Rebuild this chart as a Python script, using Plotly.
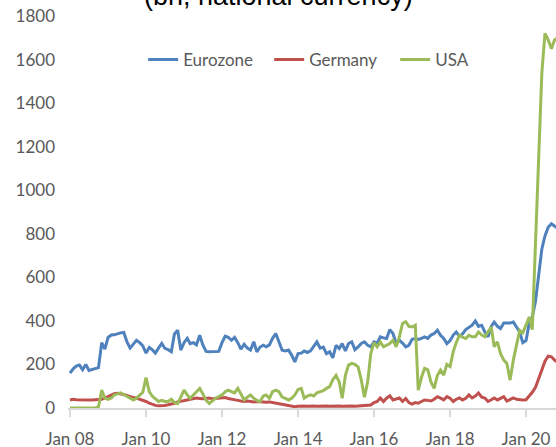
import pandas as pd
import plotly.graph_objects as go

# monthly values, Jan 2008 - Nov 2020 (bn, national currency)
eurozone = [
    160, 180, 192, 197, 176, 200, 172, 177, 180, 185, 300, 270,   # 2008
    324, 335, 336, 342, 345, 347, 305, 275, 292, 311, 300, 285,   # 2009
    252, 278, 268, 252, 275, 296, 274, 268, 258, 340, 357, 266,   # 2010
    300, 320, 295, 300, 290, 334, 290, 260, 258, 258, 258, 260,   # 2011
    300, 330, 325, 311, 324, 300, 270, 293, 275, 266, 304, 258,   # 2012
    280, 288, 281, 290, 320, 342, 304, 265, 262, 266, 243, 212,   # 2013
    250, 252, 262, 255, 262, 281, 304, 275, 280, 250, 258, 230,   # 2014
    288, 273, 296, 262, 296, 304, 268, 281, 296, 304, 288, 281,   # 2015
    304, 298, 327, 322, 319, 360, 342, 296, 311, 298, 281, 288,   # 2016
    315, 319, 315, 320, 327, 320, 335, 342, 357, 334, 319, 296,   # 2017
    310, 335, 349, 330, 340, 360, 370, 380, 400, 375, 380, 349,   # 2018
    327, 375, 395, 375, 365, 390, 390, 390, 395, 375, 349, 300,   # 2019
    310, 390, 418, 490, 600, 730, 790, 830, 846, 835, 825,        # 2020
]
germany = [
    37, 40, 38, 37, 37, 37, 37, 37, 37, 38, 40, 45,
    52, 60, 66, 68, 66, 62, 58, 52, 48, 45, 40, 37,
    30, 22, 16, 12, 10, 10, 12, 15, 18, 22, 28, 30,
    33, 37, 40, 44, 46, 44, 42, 44, 46, 42, 44, 46,
    46, 48, 44, 42, 38, 35, 32, 30, 32, 30, 28, 30,
    30, 28, 26, 28, 25, 22, 20, 15, 12, 10, 8, 6,
    8, 10, 9, 8, 10, 9, 8, 9, 10, 9, 8, 9,
    10, 9, 8, 9, 10, 9, 8, 9, 10, 11, 12, 14,
    25, 30, 46, 30, 45, 56, 37, 42, 46, 30, 44, 25,
    18, 25, 22, 30, 37, 35, 32, 40, 52, 45, 37, 52,
    45, 30, 40, 46, 37, 45, 60, 46, 55, 69, 50, 46,
    30, 38, 46, 37, 45, 52, 32, 40, 46, 40, 37, 37,
    38, 55, 72, 95, 130, 175, 215, 238, 235, 220, 210,
]
usa = [
    0, 0, 0, 0, 0, 0, 0, 0, 0, 5, 82, 45,
    40, 46, 60, 65, 69, 62, 55, 48, 37, 45, 60, 72,
    140, 75, 55, 40, 30, 35, 30, 30, 40, 25, 20, 50,
    82, 60, 45, 60, 75, 90, 65, 35, 21, 35, 45, 53,
    60, 75, 82, 75, 69, 90, 65, 37, 50, 60, 45, 35,
    29, 55, 60, 44, 75, 82, 75, 50, 44, 37, 45, 60,
    85, 90, 45, 55, 60, 55, 70, 75, 80, 90, 98, 130,
    150, 120, 45, 150, 197, 205, 200, 189, 128, 50, 120, 250,
    300, 281, 304, 281, 290, 296, 311, 281, 327, 388, 396, 375,
    372, 380, 82, 140, 182, 175, 120, 90, 150, 174, 151, 200,
    190, 260, 300, 334, 325, 319, 334, 327, 327, 349, 335, 327,
    350, 372, 281, 304, 250, 220, 205, 128, 220, 296, 357, 345,
    380, 418, 360, 740, 1180, 1540, 1720, 1690, 1650, 1690, 1700,
]

tick_dates = ["2008-01-01", "2010-01-01", "2012-01-01", "2014-01-01",
              "2016-01-01", "2018-01-01", "2020-01-01"]
tick_labels = ["Jan 08", "Jan 10", "Jan 12", "Jan 14", "Jan 16", "Jan 18", "Jan 20"]

months = pd.date_range("2008-01-01", periods=len(eurozone), freq="MS")

series = [("Eurozone", eurozone, "#4F81BD"),
          ("Germany", germany, "#C0504D"),
          ("USA", usa, "#9BBB59")]

fig = go.Figure()
for name, vals, col in series:
    fig.add_trace(go.Scatter(x=months, y=vals, name=name, mode="lines",
                             line=dict(color=col, width=3)))

fig.update_layout(
    width=556, height=447,
    margin=dict(l=68, r=0, t=16, b=39),
    plot_bgcolor="white", paper_bgcolor="white",
    font=dict(family="Lato", size=17, color="#595959"),
    legend=dict(orientation="h", x=0.154, xanchor="left",
                y=0.888, yanchor="middle",
                entrywidth=81, entrywidthmode="pixels",
                bgcolor="rgba(0,0,0,0)",
                font=dict(family="Lato", size=17, color="#595959")),
)

fig.update_xaxes(type="date", range=["2007-12-13", "2020-10-15"],
                 tickvals=tick_dates, ticktext=tick_labels,
                 showgrid=False, zeroline=False, automargin=False,
                 showline=True, linecolor="#D9D9D9", linewidth=1.5,
                 ticks="outside", ticklen=7, tickcolor="#D9D9D9", tickwidth=1.5,
                 ticklabelstandoff=8)
fig.update_yaxes(range=[0, 1800], dtick=200, automargin=False,
                 showgrid=False, zeroline=False, showline=False,
                 ticklabelstandoff=12)

fig.add_annotation(text="(bn, national currency)", xref="paper", yref="paper",
                   x=0.432, y=1, xanchor="center", yanchor="bottom",
                   yshift=3, showarrow=False,
                   font=dict(family="Liberation Sans", size=27, color="black"))

# page body has a default 8px margin; remove it so the figure sits at 0,0
fig.write_html("out.html", config={"displayModeBar": False},
               post_script="document.body.style.margin = '0';")
